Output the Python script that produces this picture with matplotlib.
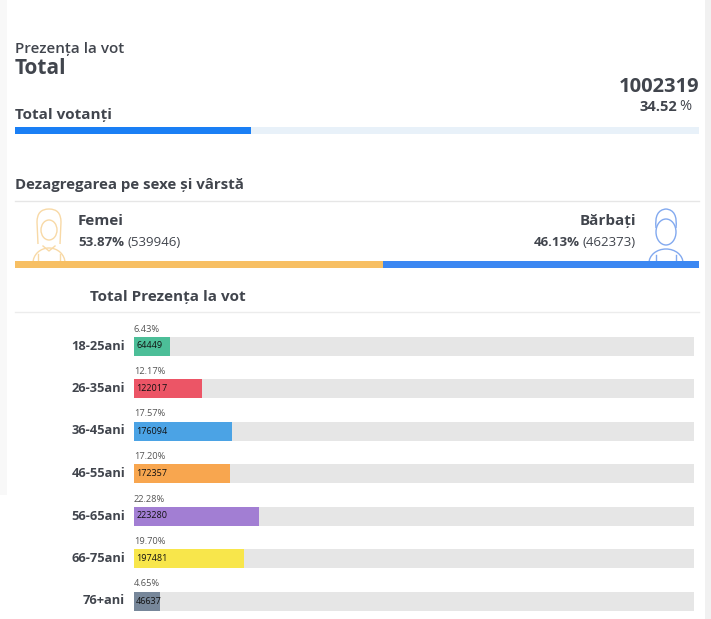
import numpy as np
import matplotlib.pyplot as plt
from matplotlib.patches import Rectangle, Ellipse, Arc, PathPatch
from matplotlib.path import Path

# Datos
total_votanti = 1002319
total_pct = 34.52

gen_labels = ['Femei', 'Bărbați']
gen_pct = [53.87, 46.13]
gen_vals = [539946, 462373]
gen_colors = ['#f7bf63', '#3b87f2']

age_labels = ['18-25ani', '26-35ani', '36-45ani', '46-55ani', '56-65ani', '66-75ani', '76+ani']
age_pct = [6.43, 12.17, 17.57, 17.20, 22.28, 19.70, 4.65]
age_vals = [64449, 122017, 176094, 172357, 223280, 197481, 46637]
age_colors = ['#4cbe98', '#ec5566', '#4ba3e5', '#f8a64f', '#a27ed3', '#f8e64b', '#77879a']

W, H = 711, 619
DARK = '#41454d'
plt.rcParams['font.family'] = ['Open Sans', 'DejaVu Sans']

fig = plt.figure(figsize=(W / 100, H / 100), dpi=100)
fig.patch.set_facecolor('white')


def px_axes(x0, y0, x1, y1):
    return fig.add_axes([x0 / W, 1 - y1 / H, (x1 - x0) / W, (y1 - y0) / H])


# fondo en coordenadas de pixel
bg = fig.add_axes([0, 0, 1, 1])
bg.set_xlim(0, W)
bg.set_ylim(H, 0)
bg.axis('off')
bg.add_patch(Rectangle((0, 0), 7, 495, color='#f8f8f8', lw=0))
bg.add_patch(Rectangle((705, 0), 6, H, color='#f1f1f1', lw=0))

# cabecera
bg.text(15, 49, 'Prezența la vot', fontsize=11, fontweight='semibold', color=DARK, va='center', ha='left')
bg.text(15, 68, 'Total', fontsize=15, fontweight='bold', color=DARK, va='center', ha='left')
bg.text(699, 92, str(total_votanti), fontsize=14.5, fontweight='bold', color=DARK, va='baseline', ha='right')
t_pc = bg.text(691, 110, '%', fontsize=10.5, color=DARK, va='baseline', ha='right')
bg.annotate(f'{total_pct:.2f}', xy=(0, 0), xycoords=t_pc, xytext=(-1, 0), textcoords='offset points',
            fontsize=10.5, fontweight='bold', color=DARK, va='bottom', ha='right')
bg.text(15, 115, 'Total votanți', fontsize=11, fontweight='bold', color=DARK, va='center', ha='left')

# barra total
ax_tot = px_axes(15, 127, 699, 134)
ax_tot.barh([0], [100], height=1, color='#e8f1f9')
ax_tot.barh([0], [total_pct], height=1, color='#1a7ff5')
ax_tot.set_xlim(0, 100)
ax_tot.set_ylim(-0.5, 0.5)
ax_tot.axis('off')

# sexe
bg.text(15, 185, 'Dezagregarea pe sexe și vârstă', fontsize=10.8, fontweight='bold', color=DARK,
        va='center', ha='left')
bg.plot([15, 699], [201, 201], color='#e6e6e6', lw=1)

bg.text(78, 221, gen_labels[0], fontsize=11, fontweight='bold', color=DARK, va='center', ha='left')
tf = bg.text(78, 242, f'{gen_pct[0]:.2f}%', fontsize=9.5, fontweight='bold', color=DARK, va='center', ha='left')
bg.annotate(f'({gen_vals[0]})', xy=(1, 0), xycoords=tf, xytext=(2.5, 0), textcoords='offset points',
            fontsize=9.5, color=DARK, va='bottom', ha='left')
bg.text(636, 221, gen_labels[1], fontsize=11, fontweight='bold', color=DARK, va='center', ha='right')
tm = bg.text(636, 242, f'({gen_vals[1]})', fontsize=9.5, color=DARK, va='center', ha='right')
bg.annotate(f'{gen_pct[1]:.2f}%', xy=(0, 0), xycoords=tm, xytext=(-2.5, 0), textcoords='offset points',
            fontsize=9.5, fontweight='bold', color=DARK, va='bottom', ha='right')

# iconos
wc = '#f8d9a6'
hair = Path([(38, 244), (37, 222), (37, 209), (49, 209), (61, 209), (61, 222), (60, 244)],
            [Path.MOVETO, Path.LINETO, Path.CURVE3, Path.CURVE3, Path.CURVE3, Path.CURVE3, Path.LINETO])
bg.add_patch(PathPatch(hair, fill=False, ec=wc, lw=1))
bg.add_patch(Ellipse((49, 230), 16, 20, fill=False, ec=wc, lw=1))
bg.add_patch(Arc((49, 263), 32, 30, theta1=180, theta2=360, ec=wc, lw=1))
bg.plot([43, 49, 55], [246, 251, 246], color=wc, lw=1)
bg.plot([38, 38], [254, 262], color=wc, lw=1)
bg.plot([60, 60], [254, 262], color=wc, lw=1)

mc = '#82a9ef'
bg.add_patch(Ellipse((666, 232), 20, 26, fill=False, ec=mc, lw=1))
hair_m = Path([(656, 228), (654, 210), (666, 209), (678, 210), (676, 228)],
              [Path.MOVETO, Path.CURVE3, Path.CURVE3, Path.CURVE3, Path.CURVE3])
bg.add_patch(PathPatch(hair_m, fill=False, ec=mc, lw=1))
bg.add_patch(Arc((666, 263), 34, 28, theta1=180, theta2=360, ec=mc, lw=1))
bg.plot([656, 656], [255, 262], color=mc, lw=1)
bg.plot([676, 676], [255, 262], color=mc, lw=1)

# barra sexe
ax_gen = px_axes(15, 261, 699, 268)
ax_gen.barh([0], [gen_pct[0]], height=1, color=gen_colors[0])
ax_gen.barh([0], [gen_pct[1]], left=[gen_pct[0]], height=1, color=gen_colors[1])
ax_gen.set_xlim(0, 100)
ax_gen.set_ylim(-0.5, 0.5)
ax_gen.axis('off')

# edad
bg.text(90, 297, 'Total Prezența la vot', fontsize=11, fontweight='bold', color=DARK, va='center', ha='left')
bg.plot([15, 699], [312, 312], color='#ececec', lw=1)

row = 42.5
ax = px_axes(134, 335, 694, 613)
y = np.arange(len(age_labels))
ax.barh(y, [100] * len(y), height=19 / row, color='#e6e6e6')
ax.barh(y, age_pct, height=19 / row, color=age_colors)
ax.set_xlim(0, 100)
ax.set_ylim(6 + 12 / row, -11 / row)
ax.axis('off')
for i in range(len(age_labels)):
    ax.text(0, i - 17 / row, f'{age_pct[i]:.2f}%', fontsize=6.7, color='#555555', va='center', ha='left')
    ax.text(0.4, i, str(age_vals[i]), fontsize=6.5, color='#111111', va='center', ha='left')
    ax.text(-9 / 5.6, i, age_labels[i], fontsize=9.3, fontweight='bold', color=DARK, va='center', ha='right',
            clip_on=False)

fig.savefig('out.png', dpi=100)
